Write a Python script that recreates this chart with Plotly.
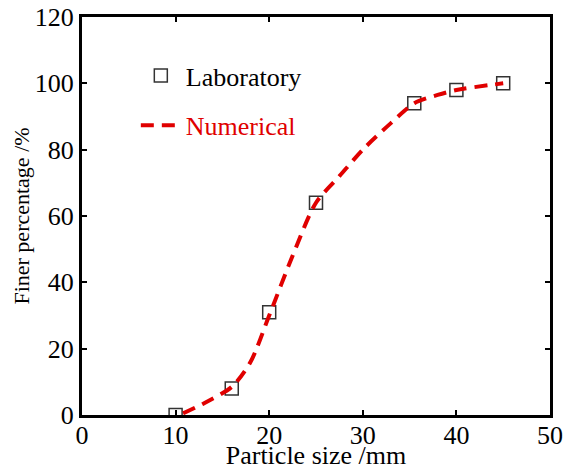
import plotly.graph_objects as go

# Laboratory data
lab_size = [10, 16, 20, 25, 35.5, 40, 45]
lab_finer = [0, 8, 31, 64, 94, 98, 100]

# Numerical curve
num_size = [10.8, 13, 16, 18, 20, 22.5, 25, 27.5, 30, 33, 35.5, 38, 40, 45]
num_finer = [0.5, 3.5, 8.5, 16, 30, 48, 64, 72, 80, 88, 94, 96.5, 98, 100]

x_ticks = [0, 10, 20, 30, 40, 50]
y_ticks = [0, 20, 40, 60, 80, 100, 120]

font_family = "Liberation Serif, Times New Roman, serif"

fig = go.Figure()
fig.add_trace(go.Scatter(
    x=lab_size, y=lab_finer, mode="markers", name="Laboratory",
    legendgroup="a",
    marker=dict(symbol="square-open", size=13, color="#333333",
                line=dict(width=1.5, color="#333333")),
))
fig.add_trace(go.Scatter(
    x=num_size, y=num_finer, mode="lines",
    name="<span style='color:#e00000'>Numerical</span>",
    legendgroup="b",
    line=dict(color="#e00000", width=4, dash="13px,8px", shape="spline", smoothing=0.8),
))

axis_common = dict(
    showline=True, linewidth=3, linecolor="black", mirror="ticks",
    ticks="inside", ticklen=5, tickwidth=2, tickcolor="black",
    showgrid=False, zeroline=False, automargin=False,
    ticklabeloverflow="allow",
    tickfont=dict(family=font_family, size=26, color="black"),
)

# page has an 8px body margin; figure is sized to fill the window exactly
fig.update_layout(
    width=565, height=462,
    margin=dict(l=74, r=23, t=9, b=55),
    plot_bgcolor="white", paper_bgcolor="white",
    font=dict(family=font_family, size=26, color="black"),
    showlegend=True,
    legend=dict(x=0.115, y=0.912, xanchor="left", yanchor="top",
                bgcolor="rgba(0,0,0,0)", tracegroupgap=13,
                font=dict(family=font_family, size=26, color="black"),
                itemwidth=40),
    xaxis=dict(range=[0, 50], tickvals=x_ticks, ticklabelstandoff=-5,
               title=dict(text="Particle size /mm", standoff=5,
                          font=dict(family=font_family, size=26)),
               **axis_common),
    yaxis=dict(range=[0, 120], tickvals=y_ticks,
               title=dict(text="Finer percentage /%", standoff=0,
                          font=dict(family=font_family, size=22)),
               **axis_common),
)

fig.write_html("out.html")
